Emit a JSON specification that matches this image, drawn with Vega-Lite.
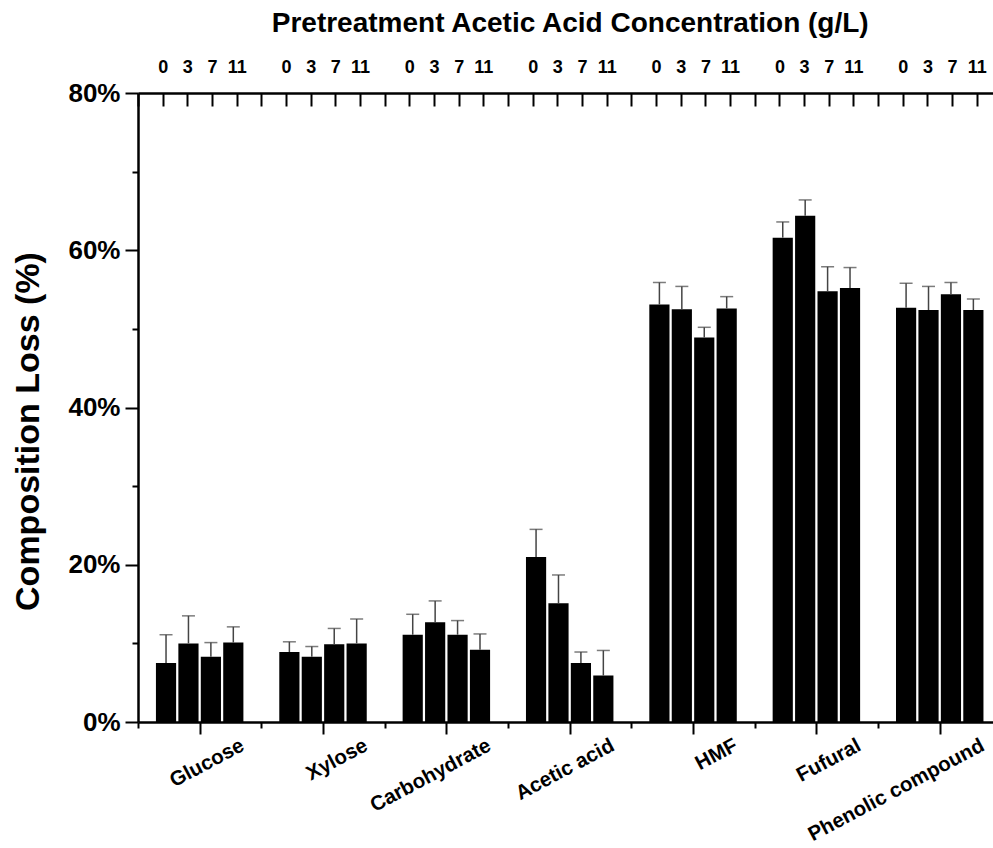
{
  "$schema": "https://vega.github.io/schema/vega-lite/v6.json",
  "width": 855,
  "height": 629,
  "autosize": {"type": "none"},
  "padding": {"left": 138, "top": 93, "right": 0, "bottom": 126},
  "background": "white",
  "config": {
    "view": {"stroke": null},
    "font": "Liberation Sans",
    "axis": {
      "grid": false,
      "domainColor": "black",
      "tickColor": "black",
      "labelColor": "black",
      "titleColor": "black",
      "domainWidth": 2.5,
      "tickWidth": 2,
      "labelFont": "Liberation Sans",
      "titleFont": "Liberation Sans",
      "labelFontWeight": "bold",
      "titleFontWeight": "bold",
      "labelLimit": 0
    }
  },
  "data": {
    "values": [
      {"group": "Glucose", "conc": "0", "loss": 7.5, "upper": 11.1},
      {"group": "Glucose", "conc": "3", "loss": 10.0, "upper": 13.5},
      {"group": "Glucose", "conc": "7", "loss": 8.3, "upper": 10.1},
      {"group": "Glucose", "conc": "11", "loss": 10.1, "upper": 12.1},
      {"group": "Xylose", "conc": "0", "loss": 8.9, "upper": 10.2},
      {"group": "Xylose", "conc": "3", "loss": 8.3, "upper": 9.6},
      {"group": "Xylose", "conc": "7", "loss": 9.9, "upper": 11.9},
      {"group": "Xylose", "conc": "11", "loss": 10.0, "upper": 13.1},
      {"group": "Carbohydrate", "conc": "0", "loss": 11.1, "upper": 13.7},
      {"group": "Carbohydrate", "conc": "3", "loss": 12.7, "upper": 15.4},
      {"group": "Carbohydrate", "conc": "7", "loss": 11.1, "upper": 12.9},
      {"group": "Carbohydrate", "conc": "11", "loss": 9.2, "upper": 11.2},
      {"group": "Acetic acid", "conc": "0", "loss": 21.0, "upper": 24.5},
      {"group": "Acetic acid", "conc": "3", "loss": 15.1, "upper": 18.7},
      {"group": "Acetic acid", "conc": "7", "loss": 7.5, "upper": 8.9},
      {"group": "Acetic acid", "conc": "11", "loss": 5.9, "upper": 9.1},
      {"group": "HMF", "conc": "0", "loss": 53.1, "upper": 55.9},
      {"group": "HMF", "conc": "3", "loss": 52.5, "upper": 55.4},
      {"group": "HMF", "conc": "7", "loss": 48.9, "upper": 50.2},
      {"group": "HMF", "conc": "11", "loss": 52.6, "upper": 54.1},
      {"group": "Fufural", "conc": "0", "loss": 61.6, "upper": 63.6},
      {"group": "Fufural", "conc": "3", "loss": 64.4, "upper": 66.4},
      {"group": "Fufural", "conc": "7", "loss": 54.8, "upper": 57.9},
      {"group": "Fufural", "conc": "11", "loss": 55.2, "upper": 57.8},
      {"group": "Phenolic compound", "conc": "0", "loss": 52.7, "upper": 55.8},
      {"group": "Phenolic compound", "conc": "3", "loss": 52.4, "upper": 55.4},
      {"group": "Phenolic compound", "conc": "7", "loss": 54.4, "upper": 55.9},
      {"group": "Phenolic compound", "conc": "11", "loss": 52.4, "upper": 53.8}
    ]
  },
  "layer": [
    {
      "encoding": {
        "x": {
          "field": "group",
          "type": "nominal",
          "scale": {
            "domain": ["Glucose", "Xylose", "Carbohydrate", "Acetic acid", "HMF", "Fufural", "Phenolic compound"],
            "range": [0, 863.4],
            "paddingInner": 0,
            "paddingOuter": 0
          },
          "axis": null
        },
        "xOffset": {
          "field": "conc",
          "type": "nominal",
          "scale": {"domain": ["0", "3", "7", "11"], "paddingInner": 0.1, "paddingOuter": 0.8}
        },
        "y": {
          "field": "loss",
          "type": "quantitative",
          "title": "Composition Loss (%)",
          "scale": {"domain": [0, 80], "nice": false},
          "axis": {
            "values": [0, 10, 20, 30, 40, 50, 60, 70, 80],
            "labelExpr": "datum.value % 20 === 0 ? datum.value + '%' : ''",
            "tickSize": {"condition": {"test": "datum.value % 20 === 0", "value": 13}, "value": 6},
            "labelFontSize": 26,
            "labelPadding": 5,
            "titleFontSize": 34,
            "titlePadding": 22,
            "titleY": 338
          }
        }
      },
      "layer": [
        {"mark": {"type": "bar", "color": "black"}},
        {
          "mark": {"type": "rule", "color": "#444444", "strokeWidth": 1.5},
          "encoding": {"y2": {"field": "upper"}}
        },
        {
          "mark": {"type": "tick", "color": "#444444", "thickness": 1.5, "size": 13},
          "encoding": {"y": {"field": "upper", "type": "quantitative", "title": "Composition Loss (%)"}}
        }
      ]
    },
    {
      "mark": {"type": "point", "opacity": 0},
      "encoding": {
        "x": {
          "field": "group",
          "type": "ordinal",
          "scale": {
            "type": "point",
            "domain": ["~0", "Glucose|0", "Glucose|3", "Glucose|7", "Glucose|11", "~1", "Xylose|0", "Xylose|3", "Xylose|7", "Xylose|11", "~2", "Carbohydrate|0", "Carbohydrate|3", "Carbohydrate|7", "Carbohydrate|11", "~3", "Acetic acid|0", "Acetic acid|3", "Acetic acid|7", "Acetic acid|11", "~4", "HMF|0", "HMF|3", "HMF|7", "HMF|11", "~5", "Fufural|0", "Fufural|3", "Fufural|7", "Fufural|11", "~6", "Phenolic compound|0", "Phenolic compound|3", "Phenolic compound|7", "Phenolic compound|11", "~7"],
            "range": [0, 863.4],
            "padding": 0
          },
          "axis": {
            "orient": "top",
            "title": "Pretreatment Acetic Acid Concentration (g/L)",
            "titleFontSize": 28,
            "titlePadding": 21,
            "labelExpr": "indexof(datum.value, '|') >= 0 ? split(datum.value, '|')[1] : ''",
            "labelFontSize": 18,
            "labelAngle": 0,
            "labelOverlap": false,
            "tickSize": -13,
            "labelPadding": 30
          }
        }
      }
    },
    {
      "mark": {"type": "point", "opacity": 0},
      "encoding": {
        "x": {
          "field": "group",
          "type": "ordinal",
          "scale": {
            "type": "point",
            "domain": ["~0", "Glucose", "~1", "Xylose", "~2", "Carbohydrate", "~3", "Acetic acid", "~4", "HMF", "~5", "Fufural", "~6", "Phenolic compound", "~7"],
            "range": [0, 863.4],
            "padding": 0
          },
          "axis": {
            "orient": "bottom",
            "title": null,
            "labelExpr": "indexof(datum.value, '~') === 0 ? '' : datum.value",
            "tickSize": {"condition": {"test": "indexof(datum.value, '~') === 0", "value": 6}, "value": 12},
            "labelFontSize": 20.5,
            "labelAngle": -28,
            "labelAlign": "right",
            "labelBaseline": "top",
            "labelOffset": 38,
            "labelPadding": 1,
            "labelOverlap": false,
            "labelLimit": 0
          }
        }
      }
    }
  ],
  "resolve": {"scale": {"x": "independent"}, "axis": {"x": "independent"}}
}
